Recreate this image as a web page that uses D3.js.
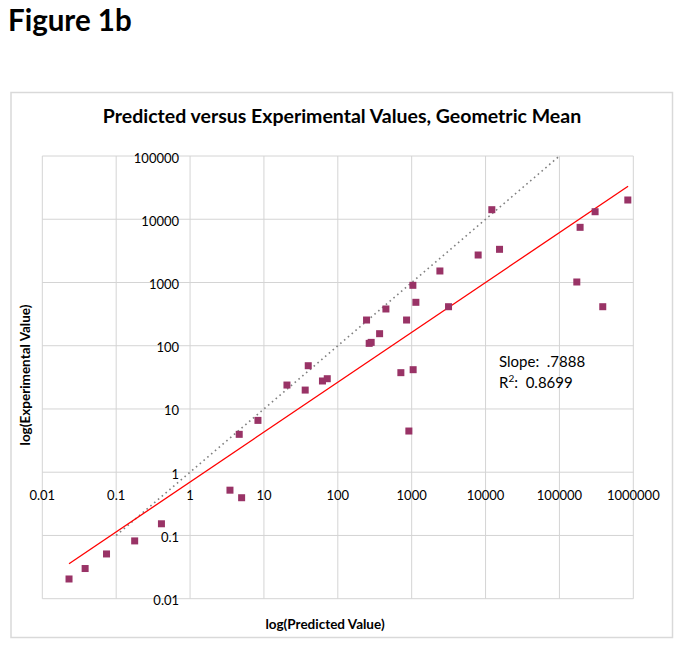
<!DOCTYPE html>
<html>
<head>
<meta charset="utf-8">
<script src="https://cdn.jsdelivr.net/npm/d3@7"></script>
<style>
  body { margin: 0; background: #fff; }
  text { font-family: Lato, "Open Sans", sans-serif; fill: #000; }
</style>
</head>
<body>
<svg width="682" height="647"></svg>
<script>
// values
const predicted = [0.023, 0.038, 0.074, 0.178, 0.41, 3.47, 4.99, 4.63, 8.3, 20.5,
  36.2, 39.8, 62, 72, 245, 266, 283, 368, 448, 853, 714, 1047, 1038, 1140, 916,
  2410, 3155, 7940, 12160, 15460, 171900, 190500, 304000, 386000, 843000];
const experimental = [0.0205, 0.030, 0.051, 0.082, 0.153, 0.52, 0.395, 3.97, 6.6, 23.9,
  19.9, 48.3, 27.7, 30.1, 255, 109, 113, 155, 381, 255, 37.5, 41.8, 902, 486, 4.48,
  1520, 414, 2720, 14160, 3345, 1018, 7450, 13150, 414, 20150];

const xTicks = [0.01, 0.1, 1, 10, 100, 1000, 10000, 100000, 1000000];
const xTickLabels = ["0.01", "0.1", "1", "10", "100", "1000", "10000", "100000", "1000000"];
const yTicks = [0.01, 0.1, 1, 10, 100, 1000, 10000, 100000];
const yTickLabels = ["0.01", "0.1", "1", "10", "100", "1000", "10000", "100000"];

// trend line in log space and the y = x reference
const slope = 0.7888;
const intercept = -0.155;
const trendX = [0.023, 850000];
const identityX = [0.1, 96000];

function draw() {
  const svg = d3.select("svg");

  // outer chart frame
  svg.append("rect")
    .attr("x", 11).attr("y", 92.5)
    .attr("width", 661.5).attr("height", 545)
    .attr("fill", "none")
    .attr("stroke", "#d9d9d9")
    .attr("stroke-width", 1.5);

  svg.append("text")
    .attr("x", 8).attr("y", 31)
    .attr("font-size", 29.5).attr("font-weight", "bold")
    .text("Figure 1b");

  svg.append("text")
    .attr("x", 342).attr("y", 123)
    .attr("text-anchor", "middle")
    .attr("font-size", 19.5).attr("font-weight", "bold")
    .text("Predicted versus Experimental Values, Geometric Mean");

  const x = d3.scaleLog().domain([0.01, 1000000]).range([42.3, 633.3]);
  const y = d3.scaleLog().domain([0.01, 100000]).range([598.7, 156]);

  // grid
  svg.append("g").selectAll("line").data(xTicks).join("line")
    .attr("x1", d => x(d)).attr("x2", d => x(d))
    .attr("y1", y.range()[1]).attr("y2", y.range()[0])
    .attr("stroke", "#d4d4d4");
  svg.append("g").selectAll("line").data(yTicks).join("line")
    .attr("y1", d => y(d)).attr("y2", d => y(d))
    .attr("x1", x.range()[0]).attr("x2", x.range()[1])
    .attr("stroke", "#d4d4d4");

  // tick labels: x labels hang under the y = 1 line, y labels left of x = 1
  svg.append("g").selectAll("text").data(xTicks).join("text")
    .attr("x", d => x(d))
    .attr("y", y(1) + 27.5)
    .attr("text-anchor", "middle")
    .attr("font-size", 13)
    .text((d, i) => xTickLabels[i]);
  svg.append("g").selectAll("text").data(yTicks).join("text")
    .attr("x", x(1) - 11)
    .attr("y", d => y(d) + 6.5)
    .attr("text-anchor", "end")
    .attr("font-size", 13)
    .text((d, i) => yTickLabels[i]);

  // y = x dotted line
  svg.append("line")
    .attr("x1", x(identityX[0])).attr("y1", y(identityX[0]))
    .attr("x2", x(identityX[1])).attr("y2", y(identityX[1]))
    .attr("stroke", "#808080")
    .attr("stroke-width", 1.6)
    .attr("stroke-dasharray", "1.6,3.4");

  // regression line
  const fit = v => Math.pow(10, intercept + slope * Math.log10(v));
  svg.append("line")
    .attr("x1", x(trendX[0])).attr("y1", y(fit(trendX[0])))
    .attr("x2", x(trendX[1])).attr("y2", y(fit(trendX[1])))
    .attr("stroke", "#ff0000")
    .attr("stroke-width", 1.3);

  // markers
  const s = 7;
  svg.append("g").selectAll("rect").data(predicted).join("rect")
    .attr("x", d => x(d) - s / 2)
    .attr("y", (d, i) => y(experimental[i]) - s / 2)
    .attr("width", s).attr("height", s)
    .attr("fill", "#993366");

  // annotation
  svg.append("text")
    .attr("x", 499).attr("y", 366.5)
    .attr("font-size", 15)
    .style("white-space", "pre")
    .text("Slope:  .7888");
  const r2 = svg.append("text")
    .attr("x", 499).attr("y", 387.5)
    .attr("font-size", 15)
    .style("white-space", "pre");
  r2.append("tspan").text("R");
  r2.append("tspan").attr("dy", -6).attr("font-size", 10).text("2");
  r2.append("tspan").attr("dy", 6).text(":  0.8699");

  // axis titles
  svg.append("text")
    .attr("x", 325).attr("y", 628.5)
    .attr("text-anchor", "middle")
    .attr("font-size", 13.5).attr("font-weight", "bold")
    .text("log(Predicted Value)");
  svg.append("text")
    .attr("transform", "translate(30,375) rotate(-90)")
    .attr("text-anchor", "middle")
    .attr("font-size", 13.5).attr("font-weight", "bold")
    .text("log(Experimental Value)");
}

window.onload = draw;
</script>
</body>
</html>
